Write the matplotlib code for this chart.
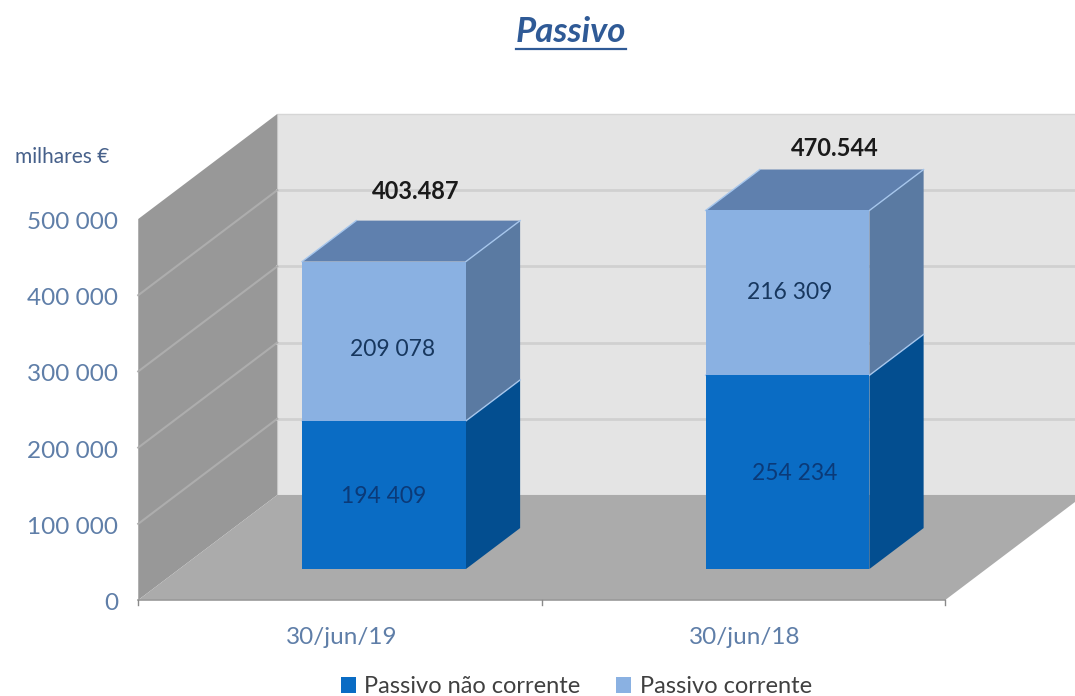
import matplotlib.pyplot as plt
from matplotlib.patches import Polygon, Patch
from matplotlib.transforms import offset_copy

plt.rcParams['font.family'] = ['Lato', 'DejaVu Sans']

categorias = ['30/jun/19', '30/jun/18']
nao_corrente = [194409, 254234]
corrente = [209078, 216309]
totais = ['403.487', '470.544']
y_ticks = [0, 100000, 200000, 300000, 400000, 500000]
series = ['Passivo não corrente', 'Passivo corrente']

# cores
COR_NC = ('#0a6cc4', '#034e90', '#034e90')
COR_C = ('#8ab1e2', '#5a7aa2', '#5f80ae')
AZUL_TXT = '#5f7ea8'
ARESTA = '#a6c6ec'

# escala do grafico em pixeis
W, H = 1075, 696
PX_X = 403.5
PX_Y = 0.762 / 1000
X0, Y0 = 340, 600

# projecao obliqua: profundidade 1 = fundo da caixa
DX = 139 / PX_X
DY = 105 / PX_Y
LARGURA = 0.406
D_FRENTE = 0.295
D_FUNDO = 0.685
DESVIO = 3 / PX_X
X_MIN, X_MAX = -0.5, 1.5
Y_MAX = y_ticks[-1]

# ajustes dos rotulos, em pixeis
AJUSTE_NC = [(0, -2), (7, -1)]
AJUSTE_C = [(9, -8), (2, 0)]
AJUSTE_TOTAL = [(32, 70), (47, 62)]


def proj(x, y, d):
    return (x + d * DX, y + d * DY)


def rotulo(ax, x, y, texto, desloc, **kw):
    tr = offset_copy(ax.transData, fig=ax.figure, x=desloc[0], y=desloc[1], units='dots')
    ax.text(x, y, texto, transform=tr, ha='center', va='center', zorder=6, **kw)


def caixa(ax, x, base, topo, cores, tampo=True):
    esq, dir_ = x + DESVIO - LARGURA / 2, x + DESVIO + LARGURA / 2
    frente, lado, cima = cores
    # lado direito
    ax.add_patch(Polygon([proj(dir_, base, D_FRENTE), proj(dir_, base, D_FUNDO),
                          proj(dir_, topo, D_FUNDO), proj(dir_, topo, D_FRENTE)],
                         fc=lado, ec='none', zorder=4))
    # o tampo so fica visivel na caixa de cima
    if tampo:
        ax.add_patch(Polygon([proj(esq, topo, D_FRENTE), proj(dir_, topo, D_FRENTE),
                              proj(dir_, topo, D_FUNDO), proj(esq, topo, D_FUNDO)],
                             fc=cima, ec='none', zorder=4))
    ax.add_patch(Polygon([proj(esq, base, D_FRENTE), proj(dir_, base, D_FRENTE),
                          proj(dir_, topo, D_FRENTE), proj(esq, topo, D_FRENTE)],
                         fc=frente, ec='none', zorder=5))
    # arestas claras do tampo
    for xa in (esq, dir_):
        p, q = proj(xa, topo, D_FRENTE), proj(xa, topo, D_FUNDO)
        ax.plot([p[0], q[0]], [p[1], q[1]], color=ARESTA, lw=1, zorder=4.5)


fig = plt.figure(figsize=(W / 100, H / 100), dpi=100)
ax = fig.add_axes([0, 0, 1, 1])
ax.set_xlim(-X0 / PX_X, (W - X0) / PX_X)
ax.set_ylim(-(H - Y0) / PX_Y, Y0 / PX_Y)
ax.axis('off')

# parede do fundo
ax.add_patch(Polygon([proj(X_MIN, 0, 1), proj(X_MAX, 0, 1),
                      proj(X_MAX, Y_MAX, 1), proj(X_MIN, Y_MAX, 1)],
                     fc='#e4e4e4', ec='#d6d6d6', lw=1, zorder=1))
# parede lateral
ax.add_patch(Polygon([proj(X_MIN, 0, 0), proj(X_MIN, 0, 1),
                      proj(X_MIN, Y_MAX, 1), proj(X_MIN, Y_MAX, 0)],
                     fc='#989898', ec='none', zorder=1))
# chao
ax.add_patch(Polygon([proj(X_MIN, 0, 0), proj(X_MAX, 0, 0),
                      proj(X_MAX, 0, 1), proj(X_MIN, 0, 1)],
                     fc='#ababab', ec='none', zorder=2))

# grelha
for v in y_ticks[1:-1]:
    ax.plot([proj(X_MIN, v, 1)[0], proj(X_MAX, v, 1)[0]], [proj(X_MIN, v, 1)[1]] * 2,
            color='#d0d0d0', lw=2, zorder=1.5)
    ax.plot([proj(X_MIN, v, 0)[0], proj(X_MIN, v, 1)[0]],
            [proj(X_MIN, v, 0)[1], proj(X_MIN, v, 1)[1]],
            color='#adadad', lw=1.5, zorder=1.5)

# eixo e marcas
ax.plot([X_MIN, X_MAX], [0, 0], color='#9a9a9a', lw=1.2, zorder=3)
for xt in [X_MIN, 0.5, X_MAX]:
    ax.plot([xt, xt], [0, -6500], color='#8a8a8a', lw=1, zorder=3)

for i, cat in enumerate(categorias):
    a, b = nao_corrente[i], corrente[i]
    caixa(ax, i, 0, a, COR_NC, tampo=False)
    caixa(ax, i, a, a + b, COR_C)

    xf = proj(i + DESVIO, 0, D_FRENTE)[0]
    rotulo(ax, xf, proj(i, a / 2, D_FRENTE)[1], f'{a:,}'.replace(',', ' '), AJUSTE_NC[i],
           fontsize=16.5, color='#0b3a78')
    rotulo(ax, xf, proj(i, a + b / 2, D_FRENTE)[1], f'{b:,}'.replace(',', ' '), AJUSTE_C[i],
           fontsize=16.5, color='#17375e')
    rotulo(ax, xf, proj(i, a + b, D_FRENTE)[1], totais[i], AJUSTE_TOTAL[i],
           fontsize=17, fontweight='bold', color='#1a1a1a')

    ax.text(i + 0.004, -49500, cat, ha='center', va='center', fontsize=17.5, color=AZUL_TXT)

# rotulos do eixo y
for v in y_ticks:
    ax.text(-0.55, v - 4500, f'{v:,}'.replace(',', ' '), ha='right', va='center',
            fontsize=17.5, color=AZUL_TXT)

ax.text(-0.805, 581000, 'milhares €', ha='left', va='center', fontsize=15, color='#46608a')

# titulo sublinhado
titulo = ax.text(0.531, 0.954, 'Passivo', transform=ax.transAxes, ha='center', va='center',
                 fontsize=25, fontstyle='italic', fontweight='bold', color='#2f5a96')
fig.canvas.draw()
bb = titulo.get_window_extent().transformed(ax.transAxes.inverted())
ax.plot([bb.x0, bb.x1], [bb.y0 - 0.002] * 2, transform=ax.transAxes, color='#2f5a96', lw=1.6)

handles = [Patch(fc=COR_NC[0]), Patch(fc=COR_C[0])]
ax.legend(handles, series, loc='center', bbox_to_anchor=(0.536, 0.0135), ncol=2, frameon=False,
          fontsize=17, handlelength=0.65, handleheight=0.65, handletextpad=0.35,
          columnspacing=1.5, labelcolor='#404040', borderpad=0)

plt.savefig('out.png', dpi=100)
